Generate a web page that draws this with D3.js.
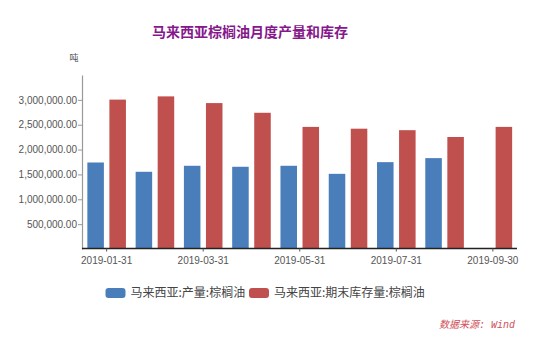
<!DOCTYPE html>
<html><head><meta charset="utf-8">
<script src="https://cdn.jsdelivr.net/npm/d3@7"></script>
<style>body{margin:0;background:#fff;} svg{display:block;}</style>
</head><body>
<svg id="c" width="550" height="344"></svg>
<script>
const title = "马来西亚棕榈油月度产量和库存";
const unitLabel = "吨";
const months = ["2019-01-31","2019-02-28","2019-03-31","2019-04-30","2019-05-31","2019-06-30","2019-07-31","2019-08-31","2019-09-30"];
const tickMonths = ["2019-01-31","2019-03-31","2019-05-31","2019-07-31","2019-09-30"];
const production = [1740000, 1553000, 1674000, 1654000, 1674000, 1512000, 1747000, 1828000, null];
const stocks = [3005000, 3070000, 2935000, 2740000, 2456000, 2420000, 2390000, 2253000, 2456000];
const seriesNames = ["马来西亚:产量:棕榈油", "马来西亚:期末库存量:棕榈油"];
const seriesColors = ["#4a7ebb", "#c0504d"];
const yTicks = [500000, 1000000, 1500000, 2000000, 2500000, 3000000];
const source = "数据来源: Wind";

const svg = d3.select("#c");
const font = "'Noto Sans CJK SC', 'Liberation Sans', sans-serif";

const x0 = d3.scaleBand().domain(months).range([82.5, 517]);
const x1 = d3.scaleBand().domain([0,1]).range([0, x0.bandwidth()]).paddingInner(0.25).paddingOuter(0.22);
const y = d3.scaleLinear().domain([0, 3500000]).range([249, 75]);

svg.append("text").attr("x", 250).attr("y", 37).attr("text-anchor","middle")
  .attr("font-family", font).attr("font-size", 14).attr("font-weight","bold")
  .attr("fill","#86188c").text(title);

svg.append("text").attr("x", 74).attr("y", 61).attr("text-anchor","middle")
  .attr("font-family", font).attr("font-size", 9).attr("fill","#555").text(unitLabel);

// bars
const series = [production, stocks];
series.forEach((vals, si) => {
  svg.append("g").selectAll("rect").data(months.map((m,i)=>({m, v: vals[i]})).filter(d=>d.v!=null))
    .join("rect")
    .attr("x", d => x0(d.m) + x1(si))
    .attr("width", x1.bandwidth())
    .attr("y", d => y(d.v))
    .attr("height", d => y(0) - y(d.v))
    .attr("fill", seriesColors[si]);
});

// y axis
const yAxis = d3.axisLeft(y).tickValues(yTicks).tickSize(4).tickSizeOuter(0)
  .tickFormat(d3.format(",.2f"));
const gy = svg.append("g").attr("transform","translate(82,0)").call(yAxis);
gy.select(".domain").attr("stroke","#999").attr("stroke-width",1.2);
gy.selectAll(".tick line").attr("stroke","#999");
gy.selectAll(".tick text").attr("font-family","'Liberation Sans', Arial, sans-serif").attr("font-size",10).attr("fill","#555").attr("x",-5);

// x axis
const xAxis = d3.axisBottom(x0).tickValues(tickMonths).tickSize(3).tickSizeOuter(0);
const gx = svg.append("g").attr("transform","translate(0,248.5)").call(xAxis);
gx.select(".domain").attr("stroke","#222").attr("stroke-width",1.5).attr("d","M82,0H517");
gx.selectAll(".tick line").attr("stroke","#555");
gx.selectAll(".tick text").attr("font-family","'Liberation Sans', Arial, sans-serif").attr("font-size",10).attr("fill","#555").attr("dy","0.95em");

// legend
const legX = [105.5, 249];
seriesNames.forEach((n, i) => {
  const g = svg.append("g").attr("transform", `translate(${legX[i]},288)`);
  g.append("rect").attr("width",20).attr("height",10).attr("rx",3).attr("fill",seriesColors[i]);
  g.append("text").attr("x",25).attr("y",5).attr("dy","0.36em")
    .attr("font-family", font).attr("font-size",12).attr("fill","#444").text(n);
});

svg.append("text").attr("x", 515).attr("y", 328).attr("text-anchor","end")
  .attr("font-family", "'Liberation Mono', " + font).attr("font-size", 10).attr("font-style","italic")
  .attr("fill","#d0505a").text(source);
</script>
</body></html>
